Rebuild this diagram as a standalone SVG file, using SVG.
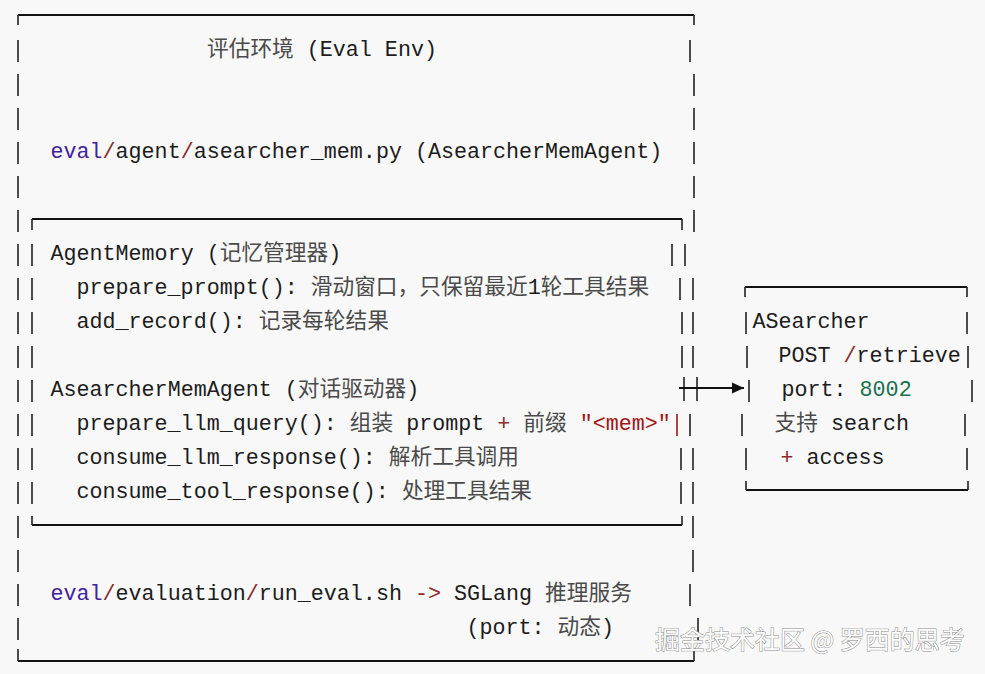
<svg xmlns="http://www.w3.org/2000/svg" width="985" height="674" viewBox="0 0 985 674" xml:space="preserve">
<style>
.t { font-family: "Liberation Mono", "Noto Sans CJK SC", monospace; font-size: 21.7px; fill: #1c1c1c; }
.cj { fill: #4a4a4a; }
.kw { fill: #3f22a0; }
.op { fill: #8b2b2b; }
.str { fill: #a31515; }
.num { fill: #17704e; }
.bar { stroke: #222; stroke-width: 1.6; fill: none; }
.hl { stroke: #111; stroke-width: 2; fill: none; }
.wm { font-family: "Noto Sans CJK SC", "Noto Sans", sans-serif; font-size: 25px; fill: #ffffff; stroke: #8a8a8a; stroke-width: 1; paint-order: stroke; }
</style>
<defs>
<marker id="ah" markerWidth="13" markerHeight="13" refX="12" refY="6.5" orient="auto" markerUnits="userSpaceOnUse">
<path d="M0,1 L12,6.5 L0,12 Z" fill="#111"/>
</marker>
</defs>
<rect width="985" height="674" fill="#f8f8f8"/>

<g id="eval-env">
<path class="hl" d="M18,15 H694"/>
<path class="hl" d="M18,661 H694"/>
<path class="bar" d="M18,15 V25 M18,40 V62 M18,74 V96 M18,108 V130 M18,142 V164 M18,176 V198 M18,210 V232 M18,244 V266 M18,278 V300 M18,312 V334 M18,346 V368 M18,380 V402 M18,414 V436 M18,448 V470 M18,482 V504 M18,516 V538 M18,550 V572 M18,584 V606 M18,618 V640 M18,649 V661"/>
<path class="bar" d="M694,15 V25 M690,40 V62 M694,74 V96 M694,108 V130 M694,142 V164 M694,176 V198 M694,210 V232 M685,244 V266 M693,278 V300 M693,312 V334 M693,346 V368 M697,377 V401 M690,414 V436 M693,448 V470 M693,482 V504 M693,516 V538 M693,550 V572 M690,584 V606 M698,618 V640 M694,649 V661"/>
<text class="t" x="207" y="56"><tspan class="cj">评估环境</tspan> (Eval Env)</text>
<text class="t" x="50.5" y="158"><tspan class="kw">eval</tspan><tspan class="op">/</tspan>agent<tspan class="op">/</tspan>asearcher_mem.py (AsearcherMemAgent)</text>
<text class="t" x="50.5" y="600"><tspan class="kw">eval</tspan><tspan class="op">/</tspan>evaluation<tspan class="op">/</tspan>run_eval.sh <tspan class="op">-&gt;</tspan> SGLang <tspan class="cj">推理服务</tspan></text>
<text class="t" x="466.5" y="634">(port: <tspan class="cj">动态</tspan>)</text>
</g>

<g id="agent-memory">
<path class="hl" d="M32,219 H682"/>
<path class="hl" d="M32,525 H682"/>
<path class="bar" d="M32,219 V230 M32,244 V266 M32,278 V300 M32,312 V334 M32,346 V368 M32,380 V402 M32,414 V436 M32,448 V470 M32,482 V504 M32,516 V525"/>
<path class="bar" d="M682,219 V230 M672,244 V266 M680,278 V300 M682,312 V334 M682,346 V368 M684,377 V401 M681,448 V470 M681,482 V504 M682,516 V525"/>
<path class="bar" style="stroke:#a31515" d="M677,414 V436"/>
<text class="t" x="50.5" y="260">AgentMemory (<tspan class="cj">记忆管理器</tspan>)</text>
<text class="t" x="76.5" y="294">prepare_prompt(): <tspan class="cj">滑动窗口，只保留最近</tspan>1<tspan class="cj">轮工具结果</tspan></text>
<text class="t" x="76.5" y="328">add_record(): <tspan class="cj">记录每轮结果</tspan></text>
<text class="t" x="50.5" y="396">AsearcherMemAgent (<tspan class="cj">对话驱动器</tspan>)</text>
<text class="t" x="76.5" y="430">prepare_llm_query(): <tspan class="cj">组装</tspan> prompt <tspan class="op">+</tspan> <tspan class="cj">前缀</tspan> <tspan class="str">"&lt;mem&gt;"</tspan></text>
<text class="t" x="76.5" y="464">consume_llm_response(): <tspan class="cj">解析工具调用</tspan></text>
<text class="t" x="76.5" y="498">consume_tool_response(): <tspan class="cj">处理工具结果</tspan></text>
</g>

<g id="asearcher">
<path class="hl" d="M745,287 H967"/>
<path class="hl" d="M746,490 H968"/>
<path class="bar" d="M745,287 V297 M746,312 V334 M747,346 V368 M749,380 V402 M742,414 V436 M746,448 V470 M746,481 V490"/>
<path class="bar" d="M967,287 V297 M967,312 V334 M968,346 V368 M972,380 V402 M965,414 V436 M967,448 V470 M968,481 V490"/>
<text class="t" x="752.5" y="328">ASearcher</text>
<text class="t" x="778.5" y="362">POST <tspan class="op">/</tspan>retrieve</text>
<text class="t" x="781.5" y="396">port: <tspan class="num">8002</tspan></text>
<text class="t" x="774.5" y="430"><tspan class="cj">支持</tspan> search</text>
<text class="t" x="780.5" y="464"><tspan class="op">+</tspan> access</text>
</g>

<g id="connectors">
<path class="hl" d="M679,388 H744" marker-end="url(#ah)"/>
</g>

<text class="wm" x="655" y="649">掘金技术社区 @ 罗西的思考</text>
</svg>
